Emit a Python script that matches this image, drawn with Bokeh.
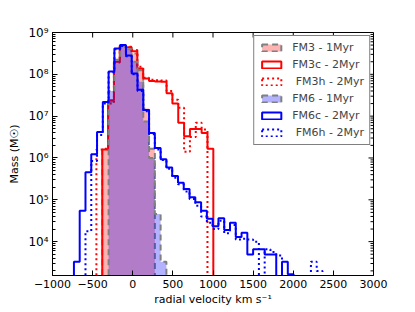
import numpy as np
from bokeh.plotting import figure
from bokeh.models import (Range1d, LogTicker, SingleIntervalTicker,
                          CustomJSTickFormatter, Legend, LegendItem)
from bokeh.embed import file_html
from bokeh.resources import INLINE

# ---------------- data (log10 of mass per velocity bin; None = empty bin) -------------
fm3_start, fm3_width = -380.0, 72.84
fm3_1myr = [6.2, 7.35, 8.3, 8.69, 8.65, 8.5, 8.1, 7.18, 6.22]
fm3c_2myr = [6.2, 7.38, 8.3, 8.69, 8.65, 8.55, 8.14, 7.9, 7.84, 7.83, 7.82, 7.55, 7.3,
             6.84, 6.52, 6.69, 6.69, 6.6, 6.22]
fm3h_start = -453.0
fm3h_2myr = [6.2, 6.22, 7.3, 8.28, 8.7, 8.66, 8.58, 8.18, 7.92, 7.87, 7.86, 7.85, 7.6,
             7.39, 7.2, 6.15, 6.5, 6.84, 6.68]

fm6_width = 72.03
fm6_start = -301.0
fm6_1myr = [7.6, 8.35, 8.68, 8.6, 8.3, 7.82, 6.87, 6.0, 4.66, 3.52]
fm6c_start = -733.0
fm6c_2myr = [3.52, 4.74, 5.66, 6.09, 6.62, 7.34, 8.07, 8.62, 8.70, 8.45, 8.02, 7.63, 7.15,
             6.6, 6.24, 5.97, 5.77, 5.57, 5.41, 5.26, 5.06, 4.94, 4.74, 4.55, 4.37, 4.56,
             4.28, 4.45, 4.11, 4.21, 3.69, 3.82, 3.82, 3.69, 3.69, None, 3.52, 3.22]
fm6h_start = -589.0
fm6h_2myr = [4.25, 5.93, 6.55, 7.3, 8.05, 8.6, 8.68, 8.43, 8.0, 7.6, 7.12, 6.57, 6.2, 5.95,
             5.74, 5.53, 5.37, 5.2, 5.02, 4.86, 4.6, 4.45, 4.3, 4.5, 4.2, 4.4, 4.05, 4.07,
             4.05, 4.0, None, 3.82, 3.75, 3.67, None, None, None, None, None, 3.52, 3.3]

labels = ["FM3 - 1Myr", "FM3c - 2Myr", " FM3h - 2Myr", "FM6 - 1Myr", "FM6c - 2Myr", " FM6h - 2Myr"]
x_ticks = [-1000, -500, 0, 500, 1000, 1500, 2000, 2500, 3000]
y_major = [1e4, 1e5, 1e6, 1e7, 1e8, 1e9]
y_minor = [m * 10 ** d for d in range(3, 9) for m in range(2, 10)]

X0, X1, Y0, Y1 = -1000, 3000, 1.55e3, 1e9
FLOOR = 100.0


def step_xy(start, width, logs):
    xs, ys = [start], [FLOOR]
    for k, v in enumerate(logs):
        y = FLOOR if v is None else 10 ** v
        x0 = start + k * width
        xs += [x0, x0 + width]
        ys += [y, y]
    xs.append(start + len(logs) * width)
    ys.append(FLOOR)
    return xs, ys


p = figure(width=407, height=308, y_axis_type="log", output_backend="svg",
           toolbar_location=None, x_range=Range1d(X0, X1), y_range=Range1d(Y0, Y1),
           min_border_left=52, min_border_right=34, min_border_top=32, min_border_bottom=31)
p.xgrid.grid_line_color = None
p.ygrid.grid_line_color = None
p.outline_line_color = "black"
p.outline_line_width = 1
p.background_fill_color = "white"

FONT = "DejaVu Sans"
RED, BLUE, GRAY = "#ff0000", "#0000ff", "#808080"
DASH, DOT = "6 4", "2 3"

series = [
    (fm3_start, fm3_width, fm3_1myr, dict(fill_color=RED, fill_alpha=0.3, line_color=GRAY, line_dash=DASH)),
    (fm3_start, fm3_width, fm3c_2myr, dict(fill_color=None, line_color=RED)),
    (fm3h_start, fm3_width, fm3h_2myr, dict(fill_color=None, line_color=RED, line_dash=DOT)),
    (fm6_start, fm6_width, fm6_1myr, dict(fill_color=BLUE, fill_alpha=0.3, line_color=GRAY, line_dash=DASH)),
    (fm6c_start, fm6_width, fm6c_2myr, dict(fill_color=None, line_color=BLUE)),
    (fm6h_start, fm6_width, fm6h_2myr, dict(fill_color=None, line_color=BLUE, line_dash=DOT)),
]
items = []
for lab, (st, w, vals, style) in zip(labels, series):
    xs, ys = step_xy(st, w, vals)
    r = p.patch(xs, ys, line_width=2, **style)
    items.append(LegendItem(label=lab, renderers=[r]))

legend = Legend(items=items, location="top_right", margin=3, padding=5, spacing=4,
                glyph_width=24, glyph_height=9, label_height=12, label_standoff=9,
                label_text_font=FONT, label_text_font_size="11px",
                border_line_color="black", border_line_width=1,
                background_fill_color="white", background_fill_alpha=1.0)
p.add_layout(legend)

# inward ticks on top and right edges
p.ray(x=x_ticks, y=[Y1] * len(x_ticks), length=5, length_units="screen",
      angle=-np.pi / 2, line_color="black", line_width=1)
p.ray(x=[X1] * len(y_major), y=y_major, length=5, length_units="screen",
      angle=np.pi, line_color="black", line_width=1)
p.ray(x=[X1] * len(y_minor), y=y_minor, length=3, length_units="screen",
      angle=np.pi, line_color="black", line_width=1)

# axes
p.xaxis.ticker = SingleIntervalTicker(interval=500)
p.xaxis.formatter = CustomJSTickFormatter(
    code="return tick < 0 ? '\\u2212' + Math.abs(tick) : String(tick);")
p.yaxis.ticker = LogTicker(num_minor_ticks=10)
p.yaxis.formatter = CustomJSTickFormatter(code="""
const sup = {'0':'\\u2070','1':'\\u00b9','2':'\\u00b2','3':'\\u00b3','4':'\\u2074','5':'\\u2075',
'6':'\\u2076','7':'\\u2077','8':'\\u2078','9':'\\u2079','-':'\\u207b'};
const e = Math.round(Math.log10(tick));
return '10' + String(e).split('').map(c => sup[c]).join('');
""")
p.xaxis.axis_label = "radial velocity km s\u207b\u00b9"
p.yaxis.axis_label = "Mass (M\u2609)"

for ax in (p.xaxis[0], p.yaxis[0]):
    ax.axis_line_color = "black"
    ax.major_tick_in = 5
    ax.major_tick_out = 0
    ax.minor_tick_in = 3
    ax.minor_tick_out = 0
    ax.major_tick_line_color = "black"
    ax.minor_tick_line_color = "black"
    ax.major_label_text_font = FONT
    ax.major_label_text_font_size = "11px"
    ax.major_label_text_color = "black"
    ax.axis_label_text_font = FONT
    ax.axis_label_text_font_size = "11px"
    ax.axis_label_text_font_style = "normal"
    ax.axis_label_text_color = "black"
p.yaxis.major_label_text_font_size = "12px"
p.xaxis.minor_tick_line_color = None
p.xaxis.major_label_standoff = 4
p.xaxis.axis_label_standoff = 2
p.yaxis.major_label_standoff = 4
p.yaxis.axis_label_standoff = 4

open("out.html", "w").write(file_html(p, INLINE))
